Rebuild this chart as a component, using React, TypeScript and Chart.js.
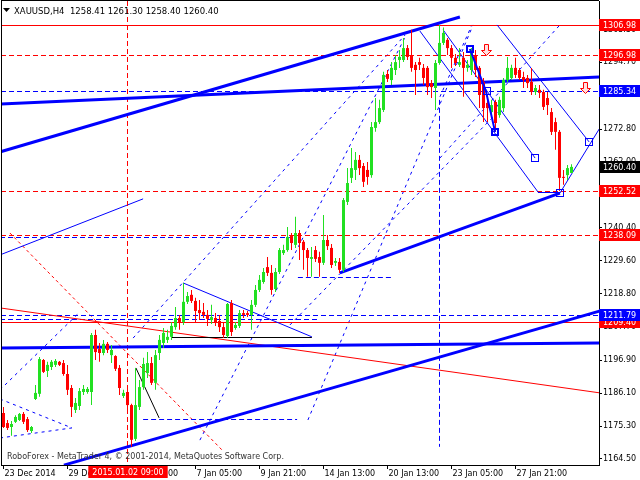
import React, { useEffect, useRef } from "react";
import { Chart, registerables } from "chart.js";

Chart.register(...registerables);

// ---- candle data (XAUUSD H4), one entry per bar ----
const opens = [
  1179.6, 1176.3, 1175.0, 1176.7, 1177.3, 1179.3, 1177.6, 1173.7, 1184.2, 1185.9,
  1197.0, 1193.4, 1194.7, 1195.4, 1196.4, 1196.0, 1192.4, 1187.8, 1180.6, 1181.9,
  1186.5, 1186.5, 1186.5, 1205.2, 1200.6, 1199.3, 1202.3, 1198.6, 1198.3, 1194.4,
  1185.2, 1186.5, 1182.2, 1171.1, 1181.6, 1188.1, 1192.7, 1196.0, 1189.5, 1199.3,
  1202.6, 1203.6, 1204.6, 1207.8, 1210.8, 1209.5, 1216.1, 1218.4, 1216.4, 1213.4,
  1212.8, 1211.8, 1210.1, 1210.8, 1209.8, 1207.8, 1204.9, 1215.7, 1207.5, 1208.2,
  1212.4, 1212.4, 1211.8, 1215.1, 1220.0, 1222.6, 1227.5, 1225.6, 1220.3, 1225.9,
  1232.1, 1233.1, 1237.7, 1234.8, 1238.7, 1235.8, 1233.1, 1230.2, 1233.1, 1230.8,
  1228.9, 1236.4, 1233.8, 1228.9, 1229.2, 1226.6, 1248.9, 1256.8, 1259.4, 1262.7,
  1260.7, 1259.4, 1257.7, 1273.2, 1275.1, 1279.1, 1290.9, 1288.9, 1292.2, 1295.5,
  1295.5, 1299.4, 1297.1, 1293.9, 1294.8, 1292.9, 1292.9, 1287.9, 1286.3, 1294.5,
  1301.1, 1302.1, 1299.4, 1296.2, 1293.9, 1296.2, 1292.9, 1292.2, 1297.1, 1292.9,
  1288.3, 1281.4, 1278.4, 1281.7, 1277.4, 1279.7, 1288.9, 1289.6, 1292.9, 1292.2,
  1289.9, 1289.6, 1288.3, 1285.0, 1285.7, 1285.0, 1283.0, 1278.4, 1275.1, 1271.9,
  1257.1, 1257.7, 1258.41,
];
const highs = [
  1181.6, 1177.3, 1177.0, 1178.9, 1179.6, 1179.9, 1178.3, 1175.3, 1188.8, 1198.0,
  1197.3, 1196.4, 1197.0, 1197.3, 1196.7, 1197.0, 1195.4, 1188.8, 1184.5, 1187.8,
  1188.8, 1188.1, 1205.9, 1206.9, 1202.6, 1203.6, 1202.9, 1201.9, 1198.6, 1195.4,
  1187.2, 1188.8, 1182.6, 1194.4, 1190.4, 1197.7, 1199.6, 1198.0, 1200.3, 1205.2,
  1207.5, 1206.9, 1209.5, 1214.4, 1211.8, 1222.3, 1219.3, 1220.0, 1217.4, 1216.7,
  1215.7, 1213.4, 1215.1, 1212.4, 1211.8, 1209.5, 1215.7, 1216.7, 1209.5, 1213.4,
  1213.4, 1213.1, 1216.7, 1221.6, 1224.9, 1227.2, 1230.8, 1228.2, 1227.2, 1233.8,
  1234.8, 1240.7, 1238.7, 1244.0, 1239.7, 1236.4, 1233.8, 1234.1, 1234.4, 1232.5,
  1244.6, 1238.0, 1235.1, 1230.5, 1230.5, 1250.2, 1260.0, 1266.6, 1265.3, 1264.3,
  1261.7, 1262.0, 1275.1, 1283.0, 1282.4, 1291.6, 1292.2, 1294.8, 1297.1, 1298.8,
  1302.7, 1300.4, 1305.4, 1294.8, 1296.2, 1294.2, 1293.5, 1288.9, 1295.5, 1306.98,
  1306.2, 1302.7, 1300.4, 1297.5, 1299.4, 1298.1, 1295.5, 1299.4, 1298.8, 1293.5,
  1289.6, 1282.4, 1282.4, 1282.4, 1283.4, 1289.6, 1296.5, 1293.9, 1296.2, 1292.9,
  1291.6, 1290.6, 1292.9, 1287.3, 1287.3, 1285.7, 1285.0, 1279.7, 1276.5, 1272.5,
  1259.4, 1261.0, 1261.30,
];
const lows = [
  1174.7, 1174.0, 1172.1, 1176.3, 1177.0, 1176.0, 1173.4, 1173.0, 1183.9, 1184.9,
  1192.7, 1191.4, 1193.7, 1194.7, 1195.0, 1191.8, 1185.5, 1178.3, 1179.6, 1180.6,
  1185.5, 1185.9, 1182.2, 1197.0, 1196.4, 1198.6, 1199.3, 1196.0, 1193.4, 1185.5,
  1184.5, 1180.6, 1168.5, 1170.4, 1180.6, 1187.2, 1191.1, 1188.8, 1187.2, 1197.0,
  1200.9, 1202.6, 1203.6, 1206.9, 1206.9, 1208.5, 1215.4, 1215.7, 1209.5, 1210.1,
  1210.8, 1208.2, 1208.8, 1208.2, 1206.2, 1204.2, 1204.2, 1204.9, 1206.9, 1207.5,
  1210.8, 1211.1, 1206.9, 1214.4, 1219.3, 1222.0, 1224.6, 1218.4, 1219.3, 1225.2,
  1231.5, 1232.5, 1233.1, 1233.8, 1229.8, 1226.6, 1224.3, 1224.3, 1229.2, 1224.3,
  1228.2, 1233.1, 1227.2, 1227.9, 1225.6, 1225.9, 1247.9, 1255.1, 1256.1, 1257.7,
  1253.8, 1254.5, 1256.8, 1271.9, 1274.5, 1278.4, 1288.3, 1287.3, 1290.6, 1292.9,
  1294.8, 1295.5, 1291.6, 1284.0, 1292.2, 1287.3, 1284.0, 1283.0, 1279.1, 1293.9,
  1300.4, 1297.1, 1292.9, 1293.5, 1293.2, 1283.4, 1291.6, 1290.6, 1289.9, 1279.7,
  1275.1, 1275.1, 1277.4, 1271.9, 1276.5, 1278.4, 1288.3, 1288.9, 1289.6, 1288.9,
  1286.3, 1286.3, 1284.0, 1284.0, 1283.0, 1279.1, 1277.4, 1270.9, 1266.0, 1252.52,
  1254.5, 1256.1, 1258.40,
];
const closes = [
  1175.0, 1174.7, 1176.0, 1178.3, 1179.3, 1176.7, 1174.0, 1175.0, 1186.2, 1197.3,
  1193.1, 1195.4, 1196.4, 1196.7, 1195.4, 1192.4, 1187.2, 1181.6, 1182.9, 1186.8,
  1187.5, 1187.5, 1205.2, 1199.6, 1199.3, 1202.3, 1200.3, 1200.3, 1194.1, 1187.8,
  1186.2, 1182.2, 1170.8, 1182.2, 1188.1, 1195.7, 1196.0, 1189.5, 1198.6, 1203.6,
  1205.9, 1204.6, 1208.2, 1210.8, 1209.5, 1216.1, 1218.0, 1216.4, 1213.1, 1212.4,
  1211.8, 1210.5, 1211.1, 1209.2, 1207.8, 1205.2, 1215.4, 1206.2, 1208.5, 1212.4,
  1211.8, 1211.8, 1215.1, 1220.0, 1223.3, 1225.9, 1225.6, 1220.0, 1225.9, 1233.1,
  1233.1, 1237.4, 1235.4, 1238.7, 1235.4, 1233.1, 1230.5, 1230.8, 1230.2, 1228.9,
  1236.4, 1234.4, 1228.2, 1229.5, 1226.6, 1249.5, 1255.1, 1260.0, 1262.7, 1260.0,
  1255.5, 1257.1, 1273.5, 1275.1, 1279.7, 1290.6, 1289.3, 1292.9, 1294.8, 1296.5,
  1299.4, 1296.5, 1292.9, 1292.2, 1293.9, 1289.6, 1286.6, 1286.6, 1294.5, 1301.1,
  1304.4, 1299.4, 1296.2, 1294.5, 1294.8, 1292.9, 1293.9, 1297.8, 1292.2, 1284.0,
  1279.7, 1279.7, 1280.7, 1274.8, 1282.4, 1288.9, 1292.9, 1292.9, 1290.6, 1289.6,
  1288.9, 1287.9, 1285.0, 1286.3, 1284.7, 1280.1, 1280.7, 1271.9, 1271.9, 1256.8,
  1256.8, 1260.0, 1260.40,
];

// ---- axis ticks ----
const xTickIndex = [0, 16, 32, 48, 64, 80, 96, 112, 128];
const xTickLabels = [
  "23 Dec 2014", "29 Dec 2014", "2 Jan 13:00", "7 Jan 05:00", "9 Jan 21:00",
  "14 Jan 13:00", "20 Jan 13:00", "23 Jan 05:00", "27 Jan 21:00",
];
const yTickValues = [
  1164.5, 1175.3, 1186.1, 1196.9, 1207.7, 1218.8, 1229.6, 1240.4, 1251.2,
  1262.0, 1272.8, 1283.9, 1294.7, 1305.5,
];

// ---- texts ----
const symbolTitle = "XAUUSD,H4";
const copyright = "RoboForex - MetaTrader 4, \u00A9 2001-2014, MetaQuotes Software Corp.";
const crossIndex = 31;
const crossLabel = "2015.01.02 09:00";

// ---- chart objects (bar index, price) ----
const redSolidLevels = [1306.98, 1209.4];
const redDashLevels = [1296.98, 1252.52, 1238.09];
const blueDashLevels = [1285.34, 1211.79];

const thickBlueLines = [
  [-0.875, 1265.3, 114.1, 1309.6],
  [-0.875, 1281.0, 149.1, 1289.9],
  [15.1, 1162.5, 149.1, 1213.1],
  [-0.875, 1200.9, 149.1, 1202.6],
  [84.1, 1225.6, 139.1, 1251.8],
];
const thinBlueLines = [
  [-0.875, 1231.5, 34.9, 1249.9],
  [104.1, 1305.0, 133.6, 1252.2],
  [133.6, 1252.2, 139.1, 1252.2],
  [109.9, 1305.4, 132.9, 1263.3],
  [123.4, 1307.0, 146.4, 1268.6],
  [139.1, 1251.8, 149.1, 1273.2],
  [44.9, 1222.3, 77.1, 1204.6],
];
const blueDotLines = [
  [-0.875, 1187.2, 19.1, 1212.8],
  [32.4, 1204.2, 100.4, 1303.7],
  [49.1, 1170.7, 100.4, 1303.0],
  [76.1, 1177.3, 117.4, 1307.0],
  [71.6, 1208.5, 124.1, 1279.1],
  [109.1, 1263.3, 139.1, 1307.0],
  [109.1, 1283.4, 117.1, 1307.0],
  [-0.875, 1184.2, 17.1, 1174.7],
  [-0.875, 1171.4, 17.1, 1174.7],
];
const blueDashSegments = [
  [73.6, 1224.3, 97.1, 1224.3],
  [34.9, 1177.6, 73.4, 1177.6],
  [-0.875, 1237.5, 71.6, 1237.5],
  [-0.875, 1210.5, 78.4, 1210.5],
];
const blackLines = [
  [42.1, 1204.6, 77.1, 1204.6],
  [33.1, 1194.4, 38.9, 1178.0],
];
const redLines = [[-0.875, 1214.1, 149.1, 1186.2]];
const redDashLines = [[1.6, 1238.7, 54.6, 1167.5]];
const blueVertical = [109, 1282.4, 1168.5];
const wavePath = [
  [116.6, 1299.1],
  [120.6, 1285.3],
  [122.9, 1271.9],
];
const boldSquares = [
  [116.6, 1299.1],
  [122.9, 1271.9],
];
const thinSquares = [
  [120.9, 1285.3],
  [132.9, 1263.3],
  [146.4, 1268.6],
  [139.1, 1251.8],
];
const sellArrows = [
  [120.6, 1298.8],
  [145.4, 1286.3],
];

const BULL = "#22e022";
const BEAR = "#ff0000";
const BLUE = "#0000ff";
const RED = "#ff0000";
const FONT = "DejaVu Sans";

const mt4Plugin = {
  id: "mt4",
  beforeDatasetsDraw(chart: any) {
    const { ctx, chartArea: a } = chart;
    const xs = chart.scales.x;
    const ys = chart.scales.y;
    const X = (v: number) => xs.getPixelForValue(v);
    const Y = (p: number) => ys.getPixelForValue(p);
    ctx.save();
    ctx.beginPath();
    ctx.rect(a.left, a.top, a.right - a.left, a.bottom - a.top);
    ctx.clip();

    const seg = (s: number[], color: string, w: number, dash: number[]) => {
      ctx.strokeStyle = color;
      ctx.lineWidth = w;
      ctx.setLineDash(dash);
      ctx.beginPath();
      let x1 = X(s[0]), y1 = Y(s[1]), x2 = X(s[2]), y2 = Y(s[3]);
      if (s[1] === s[3]) {
        y1 = Math.round(y1) + 0.5;
        y2 = y1;
      }
      ctx.moveTo(x1, y1);
      ctx.lineTo(x2, y2);
      ctx.stroke();
    };
    const hline = (p: number, color: string, dash: number[]) => {
      const y = Math.round(Y(p)) + 0.5;
      ctx.strokeStyle = color;
      ctx.lineWidth = 1;
      ctx.setLineDash(dash);
      ctx.beginPath();
      ctx.moveTo(a.left, y);
      ctx.lineTo(a.right, y);
      ctx.stroke();
    };

    blueDotLines.forEach((s) => seg(s, BLUE, 1, [3, 4]));
    redDashLines.forEach((s) => seg(s, RED, 1, [3, 3]));
    blueDashSegments.forEach((s) => seg(s, BLUE, 1, [5, 3]));
    redDashLevels.forEach((p) => hline(p, RED, [5, 3]));
    blueDashLevels.forEach((p) => hline(p, BLUE, [5, 3]));
    redSolidLevels.forEach((p) => hline(p, RED, []));
    redLines.forEach((s) => seg(s, RED, 1, []));
    blackLines.forEach((s) => seg(s, "#000", 1, []));
    thinBlueLines.forEach((s) => seg(s, BLUE, 1, []));

    // vertical dashed lines
    const vx = Math.floor(X(crossIndex)) + 0.5;
    ctx.strokeStyle = RED;
    ctx.lineWidth = 1;
    ctx.setLineDash([5, 3]);
    ctx.beginPath();
    ctx.moveTo(vx, a.top);
    ctx.lineTo(vx, a.bottom);
    ctx.stroke();
    const bx = Math.floor(X(blueVertical[0])) + 0.5;
    ctx.strokeStyle = BLUE;
    ctx.beginPath();
    ctx.moveTo(bx, Y(blueVertical[1]));
    ctx.lineTo(bx, Y(blueVertical[2]));
    ctx.stroke();

    thickBlueLines.forEach((s) => seg(s, BLUE, 3, []));
    ctx.restore();
  },
  afterDatasetsDraw(chart: any) {
    const { ctx, chartArea: a } = chart;
    const xs = chart.scales.x;
    const ys = chart.scales.y;
    const X = (v: number) => xs.getPixelForValue(v);
    const Y = (p: number) => ys.getPixelForValue(p);
    ctx.save();
    ctx.beginPath();
    ctx.rect(a.left, a.top, a.right - a.left, a.bottom - a.top);
    ctx.clip();
    ctx.setLineDash([]);
    // wave path
    ctx.strokeStyle = BLUE;
    ctx.lineWidth = 2;
    ctx.beginPath();
    wavePath.forEach((p, i) => {
      if (i === 0) ctx.moveTo(X(p[0]), Y(p[1]));
      else ctx.lineTo(X(p[0]), Y(p[1]));
    });
    ctx.stroke();
    boldSquares.forEach((p) => {
      ctx.lineWidth = 2;
      ctx.strokeRect(Math.round(X(p[0])) - 3, Math.round(Y(p[1])) - 3, 6, 6);
    });
    thinSquares.forEach((p) => {
      ctx.lineWidth = 1;
      ctx.strokeRect(Math.round(X(p[0])) - 3.5, Math.round(Y(p[1])) - 3.5, 7, 7);
    });
    // sell arrows
    sellArrows.forEach((p) => {
      const cx = Math.round(X(p[0])) + 0.5;
      const cy = Math.round(Y(p[1])) + 0.5;
      ctx.beginPath();
      ctx.moveTo(cx - 2, cy - 6);
      ctx.lineTo(cx + 2, cy - 6);
      ctx.lineTo(cx + 2, cy);
      ctx.lineTo(cx + 5, cy);
      ctx.lineTo(cx, cy + 5);
      ctx.lineTo(cx - 5, cy);
      ctx.lineTo(cx - 2, cy);
      ctx.closePath();
      ctx.fillStyle = "#ffe0e0";
      ctx.fill();
      ctx.strokeStyle = RED;
      ctx.lineWidth = 1;
      ctx.stroke();
    });
    ctx.restore();
  },
  afterDraw(chart: any) {
    const { ctx, chartArea: a } = chart;
    const xs = chart.scales.x;
    const ys = chart.scales.y;
    const X = (v: number) => xs.getPixelForValue(v);
    const Y = (p: number) => ys.getPixelForValue(p);
    ctx.save();
    ctx.setLineDash([]);
    // frame
    ctx.fillStyle = "#000";
    ctx.fillRect(a.left, a.top - 1, a.right - a.left, 1);
    ctx.fillRect(a.left, a.top - 1, 1, a.bottom - a.top + 1);

    // header
    ctx.beginPath();
    ctx.moveTo(3, 8);
    ctx.lineTo(10, 8);
    ctx.lineTo(6.5, 12);
    ctx.closePath();
    ctx.fill();
    const last = opens.length - 1;
    ctx.font = `8.5px "${FONT}"`;
    ctx.textBaseline = "alphabetic";
    ctx.textAlign = "left";
    ctx.fillText(
      `${symbolTitle}  ${opens[last].toFixed(2)} ${highs[last].toFixed(2)} ${lows[last].toFixed(2)} ${closes[last].toFixed(2)}`,
      14,
      14
    );
    // copyright
    ctx.font = `8px "${FONT}"`;
    ctx.fillStyle = "#333";
    ctx.fillText(copyright, 7, 459);

    // price boxes on the axis
    const box = (p: number, bg: string) => {
      const y = Math.round(Y(p));
      ctx.fillStyle = bg;
      ctx.fillRect(a.right, y - 6, 640 - a.right, 12);
      ctx.fillStyle = "#fff";
      ctx.font = `8px "${FONT}"`;
      ctx.textBaseline = "middle";
      ctx.fillText(p.toFixed(2), a.right + 4, y + 0.5);
    };
    [...redSolidLevels, ...redDashLevels].forEach((p) => box(p, RED));
    blueDashLevels.forEach((p) => box(p, BLUE));
    box(closes[last], "#000");

    // crosshair time label
    ctx.font = `8px "${FONT}"`;
    const tw = ctx.measureText(crossLabel).width;
    const cx = Math.round(X(crossIndex));
    ctx.fillStyle = RED;
    ctx.fillRect(cx - tw / 2 - 4, a.bottom + 1, tw + 8, 12);
    ctx.fillStyle = "#fff";
    ctx.textAlign = "center";
    ctx.textBaseline = "middle";
    ctx.fillText(crossLabel, cx, a.bottom + 7.5);
    ctx.restore();
  },
};

export default function App() {
  const ref = useRef<HTMLCanvasElement>(null);
  useEffect(() => {
    const canvas = ref.current;
    if (!canvas) return;
    const idx = opens.map((_, i) => i);
    const colors = idx.map((i) => (closes[i] >= opens[i] ? BULL : BEAR));
    const chart = new Chart(canvas, {
      type: "bar",
      data: {
        datasets: [
          {
            label: "body",
            data: idx.map((i) => ({ x: i, y: [opens[i], closes[i]] })) as any,
            backgroundColor: colors,
            barThickness: 3,
            minBarLength: 1,
            grouped: false,
            inflateAmount: 0,
            borderWidth: 0,
            order: 0,
          } as any,
          {
            label: "wick",
            data: idx.map((i) => ({ x: i, y: [lows[i], highs[i]] })) as any,
            backgroundColor: colors,
            barThickness: 1,
            grouped: false,
            inflateAmount: 0,
            borderWidth: 0,
            order: 1,
          } as any,
        ],
      },
      options: {
        responsive: false,
        devicePixelRatio: 1,
        animation: false,
        events: [],
        layout: { padding: { left: 1, top: 1, right: 0, bottom: 0 } },
        plugins: { legend: { display: false }, tooltip: { enabled: false } },
        scales: {
          x: {
            type: "linear",
            position: "bottom",
            min: -0.625,
            max: 148.875,
            offset: false,
            afterBuildTicks: (s: any) => {
              s.ticks = xTickIndex.map((v) => ({ value: v }));
            },
            afterFit: (s: any) => {
              s.height = 15;
              s.paddingLeft = 0;
              s.paddingRight = 0;
            },
            ticks: {
              autoSkip: false,
              maxRotation: 0,
              minRotation: 0,
              align: "start",
              labelOffset: 1,
              padding: 0,
              color: "#000",
              font: { family: FONT, size: 8 },
              callback: (v: any) => {
                const k = xTickIndex.indexOf(Number(v));
                return k >= 0 ? xTickLabels[k] : "";
              },
            },
            grid: { display: true, drawOnChartArea: false, drawTicks: true, tickLength: 4, color: "#000", offset: false },
            border: { display: true, color: "#000" },
          } as any,
          y: {
            type: "linear",
            position: "right",
            min: 1162.53,
            max: 1314.86,
            beginAtZero: false,
            afterBuildTicks: (s: any) => {
              s.ticks = yTickValues.map((v) => ({ value: v }));
            },
            afterFit: (s: any) => {
              s.width = 41;
              s.paddingTop = 0;
              s.paddingBottom = 0;
            },
            ticks: {
              autoSkip: false,
              padding: 1,
              color: "#000",
              font: { family: FONT, size: 8 },
              callback: (v: any) => Number(v).toFixed(2),
            },
            grid: { display: true, drawOnChartArea: false, drawTicks: true, tickLength: 3, color: "#000" },
            border: { display: true, color: "#000" },
          } as any,
        },
      },
      plugins: [mt4Plugin],
    });
    return () => chart.destroy();
  }, []);
  return (
    <div style={{ position: "fixed", left: 0, top: 0, width: 640, height: 480, background: "#fff" }}>
      <canvas ref={ref} width={640} height={480} style={{ display: "block", width: 640, height: 480 }} />
    </div>
  );
}
